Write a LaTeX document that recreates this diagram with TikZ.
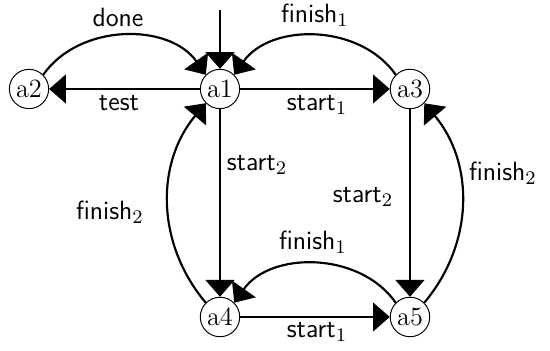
\documentclass[tikz,border=0pt]{standalone}
\usetikzlibrary{arrows.meta}
\begin{document}
\begin{tikzpicture}[x=0.417pt,y=0.417pt,
  st/.style={circle,draw,line width=0.4pt,inner sep=1.2pt,font=\fontsize{11}{13}\selectfont},
  lbl/.style={font=\fontsize{11}{13}\selectfont\sffamily,inner sep=0pt},
  tr/.style={line width=0.9pt,-{Triangle[length=7pt,width=12pt]}}]
\useasboundingbox (0,0) rectangle (550,351);
\node[st] (a1) at (220,262) {a1};
\node[st] (a2) at (29,262) {a2};
\node[st] (a3) at (410,262) {a3};
\node[st] (a4) at (220,34) {a4};
\node[st] (a5) at (410,34) {a5};
\coordinate (init) at (220,341);
\draw[tr] (init) -- (a1);
\draw[tr] (a1) -- (a2);
\draw[tr] (a2.45) to[out=55,in=125,looseness=1.0] (a1.135);
\draw[tr] (a1) -- (a3);
\draw[tr] (a3.135) to[out=125,in=55,looseness=1.0] (a1.45);
\draw[tr] (a1) -- (a4);
\draw[tr] (a4.135) to[out=130,in=230,looseness=1.0] (a1.225);
\draw[tr] (a3) -- (a5);
\draw[tr] (a5.45) to[out=50,in=-50,looseness=1.0] (a3.-45);
\draw[tr] (a4) -- (a5);
\draw[tr] (a5.135) to[out=125,in=55,looseness=1.0] (a4.45);
\node[lbl] (ldone) at (118,334) {done};
\node[lbl] (ltest) at (119,248) {test};
\node[lbl] (lf1a) at (315,336) {finish$_1$};
\node[lbl] (ls1a) at (317,246) {start$_1$};
\node[lbl] (ls2a) at (257,186) {start$_2$};
\node[lbl] (ls2b) at (363,154) {start$_2$};
\node[lbl] (lf2b) at (503,178) {finish$_2$};
\node[lbl] (lf2a) at (110,139) {finish$_2$};
\node[lbl] (lf1b) at (313,109) {finish$_1$};
\node[lbl] (ls1b) at (317,19) {start$_1$};
\end{tikzpicture}
\end{document}
